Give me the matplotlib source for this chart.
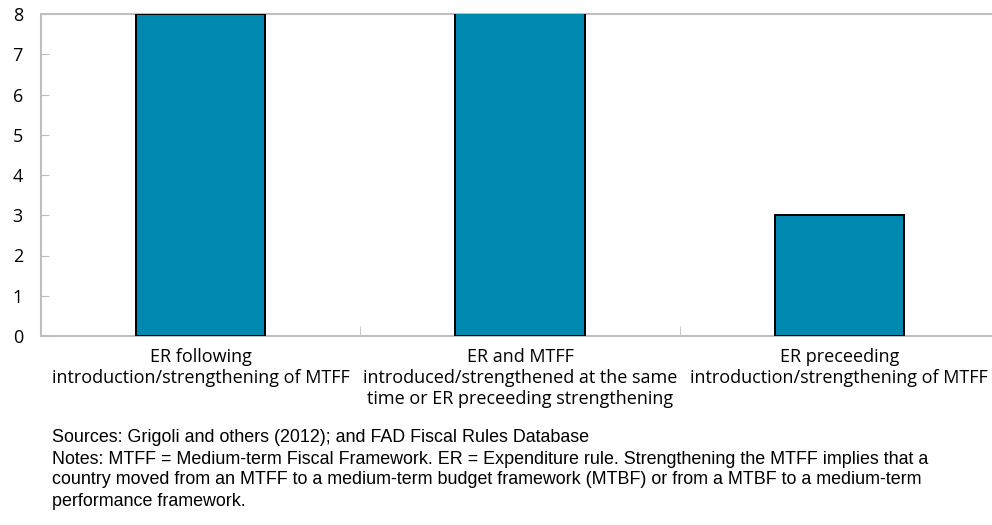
import matplotlib.pyplot as plt
from matplotlib import font_manager

# данные: число стран по последовательности введения правил
categories = [
    "ER following\nintroduction/strengthening of MTFF",
    "ER and MTFF\nintroduced/strengthened at the same\ntime or ER preceeding strengthening",
    "ER preceeding\nintroduction/strengthening of MTFF",
]
counts = [8, 9, 3]
y_ticks = [0, 1, 2, 3, 4, 5, 6, 7, 8]

footnote_lines = [
    "Sources: Grigoli and others (2012); and FAD Fiscal Rules Database",
    "Notes: MTFF = Medium-term Fiscal Framework. ER = Expenditure rule. "
    "Strengthening the MTFF implies that a",
    "country moved from an MTFF to a medium-term budget framework (MTBF) "
    "or from a MTBF to a medium-term",
    "performance framework.",
]

names = {f.name for f in font_manager.fontManager.ttflist}
narrow = "Liberation Sans Narrow" if "Liberation Sans Narrow" in names else "Liberation Sans"

bar_color = "#0089B0"
axis_color = "#BFBFBF"

fig = plt.figure(figsize=(9.92, 5.25), dpi=100)
ax = fig.add_axes([41 / 992, 1 - 336 / 525, 958 / 992, 322 / 525])

x = list(range(len(categories)))
ax.bar(x, counts, width=0.405, color=bar_color, edgecolor="black", linewidth=1.4, zorder=3)

ax.set_xlim(-0.5, len(categories) - 0.5)
ax.set_ylim(0, 8)
ax.set_yticks(y_ticks)
ax.set_yticklabels([str(v) for v in y_ticks], fontsize=13, family="Open Sans")
ax.set_xticks(x)
ax.set_xticklabels(categories, fontsize=13, family="Open Sans", linespacing=1.19)
ax.set_xticks([0.5, 1.5], minor=True)

ax.tick_params(axis="y", direction="in", length=6, color=axis_color, pad=13)
ax.tick_params(axis="x", which="major", length=0, pad=9)
ax.tick_params(axis="x", which="minor", direction="in", length=7, color=axis_color)

for side in ["left", "bottom", "top"]:
    ax.spines[side].set_color(axis_color)
    ax.spines[side].set_linewidth(1.5)
ax.spines["right"].set_visible(False)

# источники и примечания под графиком
for i, line in enumerate(footnote_lines):
    fig.text(52 / 992, 1 - (438 + 21 * i) / 525, line, fontsize=12.9,
             family=narrow, va="center")

plt.savefig("out.png", dpi=100)
